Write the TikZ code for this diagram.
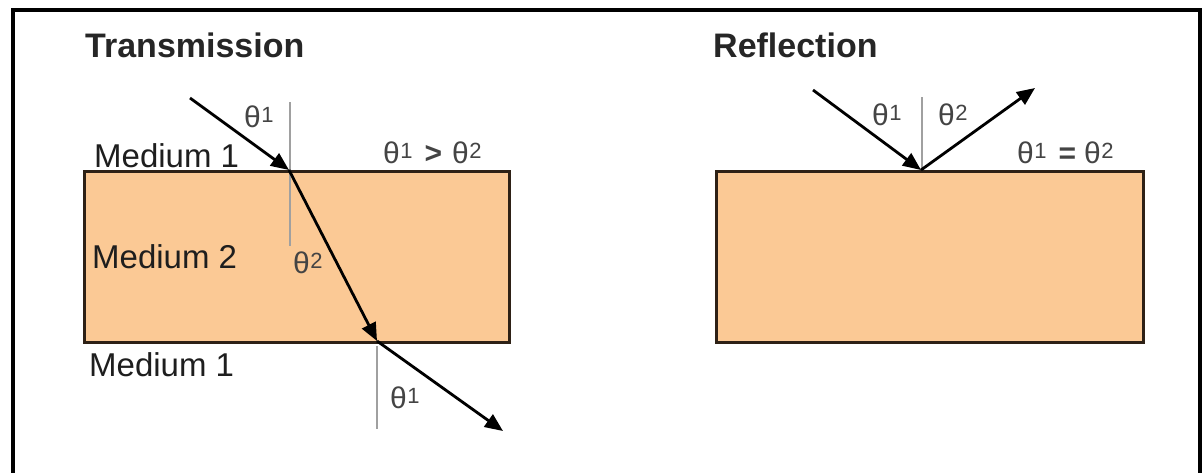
\documentclass[tikz,border=0pt]{standalone}
\usepackage{fontspec}
\setmainfont{Liberation Sans}
\usetikzlibrary{arrows.meta}
\definecolor{peach}{HTML}{FBC995}
\definecolor{edgec}{HTML}{2E2116}
\definecolor{txt}{HTML}{1E1E1E}
\definecolor{thc}{HTML}{444444}
\definecolor{normc}{HTML}{A0A0A0}
\newcommand{\thl}[1]{{\fontsize{30}{34}\selectfont θ}\kern0.5pt\raisebox{5pt}{\fontsize{22}{26}\selectfont #1}}
\begin{document}
\begin{tikzpicture}[x=1pt,y=-1pt,
  medium/.style={draw=edgec, line width=2.5pt, fill=peach, anchor=north west, inner sep=0pt, minimum width=425pt, minimum height=171pt},
  ray/.style={draw=black, line width=2.8pt, -{Triangle[length=18pt,width=15pt]}},
  normal/.style={draw=normc, line width=1.6pt},
  title/.style={font=\fontsize{34}{40}\selectfont\bfseries, text=black!85, anchor=base west, inner sep=0pt},
  mlabel/.style={font=\fontsize{33}{38}\selectfont, text=txt, anchor=base west, inner sep=0pt},
  thlabel/.style={text=thc, anchor=base west, inner sep=0pt}]
\clip (0,0) rectangle (1203,472);
\fill[white] (0,0) rectangle (1203,472);
\draw[line width=3.5pt] (13,490) -- (13,10) -- (1200,10) -- (1200,490);
% boxes
\node[medium] (box1) at (83,170) {};
\node[medium, minimum width=427pt] (box2) at (715,170) {};
% titles
\node[title] (ttl1) at (85,57) {Transmission};
\node[title] (ttl2) at (713,57) {Reflection};
% medium labels
\node[mlabel] (m1a) at (94,167) {Medium 1};
\node[mlabel] (m2) at (92,268) {Medium 2};
\node[mlabel] (m1b) at (89,376) {Medium 1};
% coordinates
\coordinate (tsrc) at (190,98);
\coordinate (tin) at (289,170);
\coordinate (tout) at (377,341);
\coordinate (tend) at (503,431);
\coordinate (n1a) at (290,102);
\coordinate (n1b) at (290,246);
\coordinate (n2a) at (377,346);
\coordinate (n2b) at (377,429);
\coordinate (rsrc) at (813,90);
\coordinate (rin) at (921,170);
\coordinate (rend) at (1035,88);
\coordinate (n3a) at (922,97);
\coordinate (n3b) at (922,170);
% normals
\draw[normal] (n1a) -- (n1b);
\draw[normal] (n2a) -- (n2b);
\draw[normal] (n3a) -- (n3b);
% rays
\draw[ray] (tsrc) -- (tin);
\draw[ray] (tin) -- (tout);
\draw[ray] (tout) -- (tend);
\draw[ray] (rsrc) -- (rin);
\draw[ray] (rin) -- (rend);
% theta labels
\node[thlabel] (t1) at (244,127) {\thl{1}};
\node[thlabel] (t2) at (293,273) {\thl{2}};
\node[thlabel] (t3) at (390,408) {\thl{1}};
\node[thlabel] (tcmp) at (383,163) {\thl{1}\hspace{12pt}{\fontsize{30}{34}\selectfont\bfseries >}\hspace{10pt}\thl{2}};
\node[thlabel] (r1) at (872,125) {\thl{1}};
\node[thlabel] (r2) at (938,125) {\thl{2}};
\node[thlabel] (rcmp) at (1017,163) {\thl{1}\hspace{12pt}{\fontsize{30}{34}\selectfont\bfseries =}\hspace{8pt}\thl{2}};
\end{tikzpicture}
\end{document}
